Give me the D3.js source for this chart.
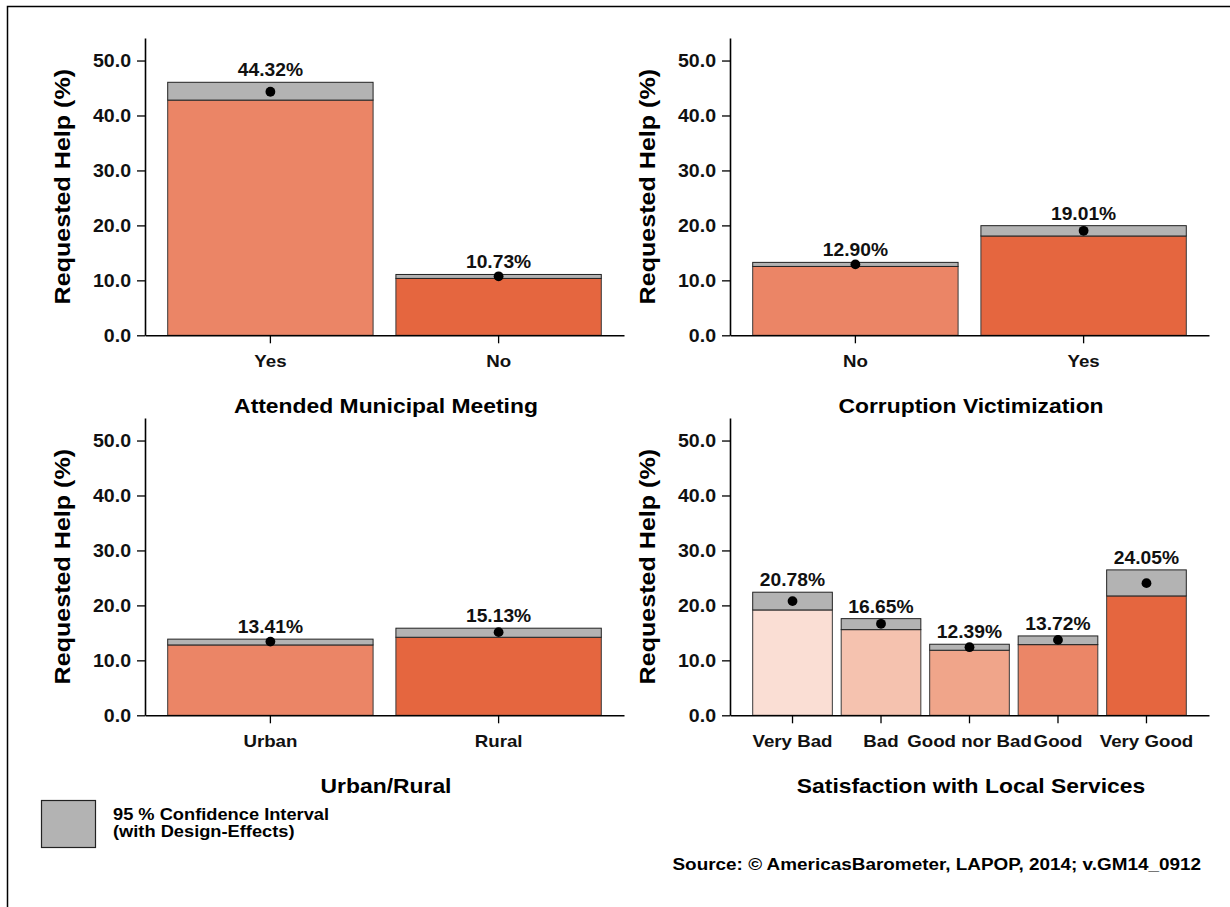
<!DOCTYPE html>
<html>
<head>
<meta charset="utf-8">
<script src="https://cdn.jsdelivr.net/npm/d3@7"></script>
<style>
  html, body { margin: 0; padding: 0; background: #fff; }
  svg { display: block; font-family: "Liberation Sans", Arial, Helvetica, sans-serif; font-weight: bold; }
</style>
</head>
<body>
<svg id="chart" width="1230" height="907"></svg>
<script>
// ---------------- DATA ----------------
const titles = ["Attended Municipal Meeting", "Corruption Victimization", "Urban/Rural", "Satisfaction with Local Services"];

const cats1 = ["Yes", "No"];
const means1 = [44.32, 10.73];
const lower1 = [42.80, 10.35];
const upper1 = [46.04, 11.07];

const cats2 = ["No", "Yes"];
const means2 = [12.90, 19.01];
const lower2 = [12.53, 18.07];
const upper2 = [13.27, 19.95];

const cats3 = ["Urban", "Rural"];
const means3 = [13.41, 15.13];
const lower3 = [12.80, 14.20];
const upper3 = [13.86, 15.85];

const cats4 = ["Very Bad", "Bad", "Good nor Bad", "Good", "Very Good"];
const means4 = [20.78, 16.65, 12.39, 13.72, 24.05];
const lower4 = [19.17, 15.59, 11.84, 12.86, 21.72];
const upper4 = [22.40, 17.59, 12.93, 14.44, 26.46];

const yTicks = [0, 10, 20, 30, 40, 50];
const yTitle = "Requested Help (%)";
const legendLines = ["95 % Confidence Interval", "(with Design-Effects)"];
const sourceText = "Source: \u00A9 AmericasBarometer, LAPOP, 2014; v.GM14_0912";

const colors2 = ["#EB8566", "#E5663F"];
const colors5 = ["#FADED4", "#F5C2AF", "#F0A58A", "#EB8667", "#E5663F"];

// ---------------- LAYOUT ----------------
const svg = d3.select("#chart");
const stretch = 1.1;
const plotW = 479, plotH = 297.3, yMax = 54.1, outerPx = 22.7;
const ciFill = "#B3B3B3";

svg.append("rect").attr("x", 7.5).attr("y", 6.5).attr("width", 1400).attr("height", 1100)
  .attr("fill", "none").attr("stroke", "#000").attr("stroke-width", 1.5);

function drawPanel(px, py0, cats, means, lower, upper, colors, title) {
  const n = cats.length, pi = 0.1;
  const step = (plotW - 2 * outerPx) / (n - pi);
  const x = d3.scaleBand().domain(cats).range([px, px + plotW])
    .paddingInner(pi).paddingOuter(outerPx / step);
  const y = d3.scaleLinear().domain([0, yMax]).range([py0, py0 - plotH]);
  const g = svg.append("g");

  const data = cats.map((c, i) => ({ c, m: means[i], lo: lower[i], hi: upper[i], col: colors[i] }));

  // bars up to lower CI bound
  g.selectAll("rect.bar").data(data).join("rect").attr("class", "bar")
    .attr("x", d => x(d.c)).attr("width", x.bandwidth())
    .attr("y", d => y(d.lo)).attr("height", d => y(0) - y(d.lo))
    .attr("fill", d => d.col).attr("stroke", "#3a3a3a").attr("stroke-width", 1);

  // CI boxes
  g.selectAll("rect.ci").data(data).join("rect").attr("class", "ci")
    .attr("x", d => x(d.c)).attr("width", x.bandwidth())
    .attr("y", d => y(d.hi)).attr("height", d => y(d.lo) - y(d.hi))
    .attr("fill", ciFill).attr("stroke", "#222").attr("stroke-width", 1);

  // mean dots
  g.selectAll("circle").data(data).join("circle")
    .attr("cx", d => x(d.c) + x.bandwidth() / 2).attr("cy", d => y(d.m)).attr("r", 4.9)
    .attr("fill", "#000");

  // value labels
  g.selectAll("text.val").data(data).join("text").attr("class", "val")
    .attr("x", d => x(d.c) + x.bandwidth() / 2).attr("y", d => y(d.hi) - 6)
    .attr("text-anchor", "middle").attr("font-size", 17.5).attr("fill", "#111")
    .text(d => d3.format(".2f")(d.m) + "%");

  // axes
  const ya = g.append("g").attr("transform", `translate(${px},0)`)
    .call(d3.axisLeft(y).tickValues(yTicks).tickFormat(d3.format(".1f"))
      .tickSizeInner(8).tickSizeOuter(0).tickPadding(6));
  const xa = g.append("g").attr("transform", `translate(0,${py0})`)
    .call(d3.axisBottom(x).tickSizeInner(8).tickSizeOuter(0).tickPadding(12));
  [ya, xa].forEach(a => {
    a.attr("font-family", null).attr("font-size", null);
    a.select(".domain").attr("stroke", "#000").attr("stroke-width", 1.6);
    a.selectAll(".tick line").attr("stroke", "#000").attr("stroke-width", 1.3);
    a.selectAll(".tick text").attr("fill", "#111").attr("font-size", 17);
  });
  ya.selectAll(".tick text").attr("font-size", 17.8);

  // y title
  g.append("text")
    .attr("transform", `translate(${px - 75},${py0 - plotH / 2}) rotate(-90)`)
    .attr("text-anchor", "middle").attr("font-size", 22.8).attr("fill", "#000")
    .text(yTitle);

  // panel title
  g.append("text").attr("x", px + plotW / 2 + 1.5).attr("y", py0 + 78)
    .attr("text-anchor", "middle").attr("font-size", 20.8).attr("fill", "#000")
    .text(title);
}

drawPanel(145, 335.3, cats1, means1, lower1, upper1, colors2, titles[0]);
drawPanel(730, 335.3, cats2, means2, lower2, upper2, colors2, titles[1]);
drawPanel(145, 715.3, cats3, means3, lower3, upper3, colors2, titles[2]);
drawPanel(730, 715.3, cats4, means4, lower4, upper4, colors5, titles[3]);

// legend
svg.append("rect").attr("x", 41.5).attr("y", 800.5).attr("width", 54).attr("height", 47)
  .attr("fill", ciFill).attr("stroke", "#222").attr("stroke-width", 1.2);
svg.selectAll("text.leg").data(legendLines).join("text").attr("class", "leg")
  .attr("x", 113).attr("y", (d, i) => 820 + i * 17)
  .attr("font-size", 16.6).attr("fill", "#000").text(d => d);

// source
svg.append("text").attr("x", 1201).attr("y", 870).attr("text-anchor", "end")
  .attr("font-size", 17.2).attr("fill", "#000").text(sourceText);

// slight horizontal stretch of all text to match the reference glyph proportions
svg.selectAll("text").each(function () {
  const l = this.getComputedTextLength();
  d3.select(this).attr("textLength", l * stretch).attr("lengthAdjust", "spacingAndGlyphs");
});
</script>
</body>
</html>
